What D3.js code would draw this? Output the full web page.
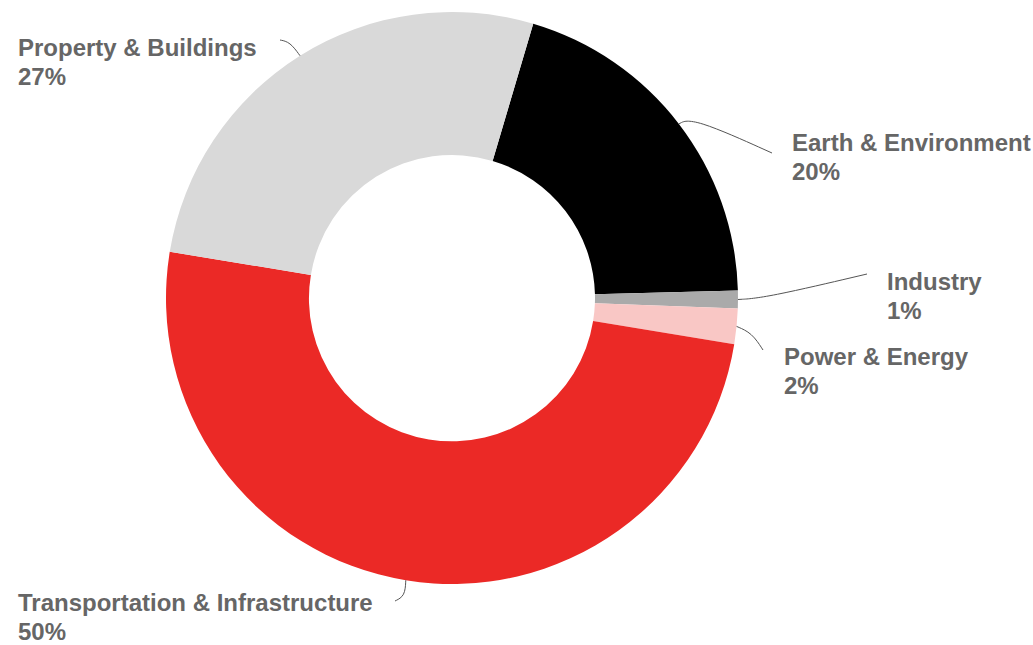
<!DOCTYPE html>
<html>
<head>
<meta charset="utf-8">
<script src="https://cdn.jsdelivr.net/npm/d3@7"></script>
<style>
  body { margin: 0; background: #fff; }
  svg { display: block; }
  .lbl { font-family: "Liberation Sans", Arial, sans-serif; font-weight: bold; font-size: 24px; fill: #666; }
</style>
</head>
<body>
<div id="chart"></div>
<script>
// data
var categories = ["Earth & Environment", "Industry", "Power & Energy", "Transportation & Infrastructure", "Property & Buildings"];
var shares = [20, 1, 2, 50, 27];
var colors = ["#000000", "#aaaaaa", "#f9c7c5", "#eb2926", "#d9d9d9"];

// label placement (x, first baseline) and leader bend/end points
var labelPos = [[792, 151], [887, 290], [784, 365], [18, 611], [18, 56]];
var leaderPts = [
  [[692, 117], [772, 153]],
  [[765, 298], [867, 274]],
  [[752, 333], [763, 350]],
  [[405, 596], [395, 601]],
  [[290, 42], [280, 40]]
];

var width = 1033, height = 645;
var cx = 452, cy = 298;
var outerR = 286, innerR = 143;
var startAngle = 16.5 * Math.PI / 180;

var svg = d3.select("#chart").append("svg")
    .attr("width", width)
    .attr("height", height);

var pie = d3.pie()
    .sort(null)
    .value(function(d) { return d; })
    .startAngle(startAngle)
    .endAngle(startAngle + 2 * Math.PI);

var arcs = pie(shares);

var arc = d3.arc().innerRadius(innerR).outerRadius(outerR);
var edge = d3.arc().innerRadius(outerR).outerRadius(outerR);

var g = svg.append("g").attr("transform", "translate(" + cx + "," + cy + ")");

g.selectAll("path.slice")
    .data(arcs)
  .enter().append("path")
    .attr("class", "slice")
    .attr("d", arc)
    .attr("fill", function(d, i) { return colors[i]; });

// leader lines
var line = d3.line().curve(d3.curveBasis);
svg.selectAll("path.leader")
    .data(arcs)
  .enter().append("path")
    .attr("class", "leader")
    .attr("d", function(d, i) {
      var c = edge.centroid(d);
      var p0 = [cx + c[0], cy + c[1]];
      return line([p0].concat(leaderPts[i]));
    })
    .attr("fill", "none")
    .attr("stroke", "#555")
    .attr("stroke-width", 1);

// labels
var labels = svg.selectAll("text.lbl")
    .data(arcs)
  .enter().append("text")
    .attr("class", "lbl")
    .attr("x", function(d, i) { return labelPos[i][0]; })
    .attr("y", function(d, i) { return labelPos[i][1]; });

labels.append("tspan")
    .attr("x", function(d, i) { return labelPos[i][0]; })
    .text(function(d, i) { return categories[i]; });

labels.append("tspan")
    .attr("x", function(d, i) { return labelPos[i][0]; })
    .attr("dy", 29)
    .text(function(d, i) { return shares[i] + "%"; });
</script>
</body>
</html>
